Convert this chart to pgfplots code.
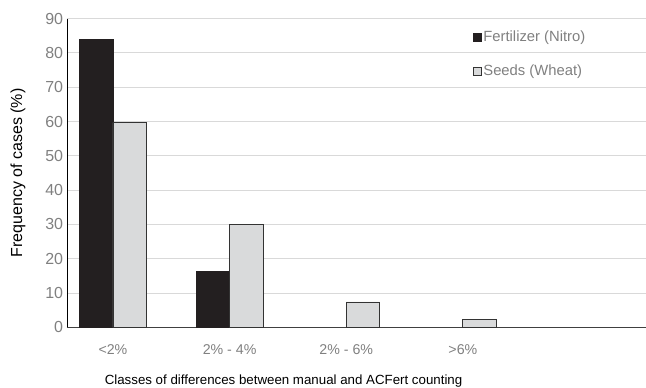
\documentclass[border=0pt]{standalone}
\usepackage{fontspec}
\setmainfont{Liberation Sans}
\usepackage{pgfplots}
\pgfplotsset{compat=1.18}
\definecolor{barblack}{HTML}{231F20}
\definecolor{bargray}{HTML}{D9DADB}
\definecolor{gridgray}{HTML}{D9D9D9}
\definecolor{ticktext}{HTML}{808080}
\definecolor{axisgray}{HTML}{404040}
\begin{document}
\fontsize{14}{16}\selectfont
\begin{tikzpicture}
\path[use as bounding box] (-67pt,-60.7pt) rectangle (579pt,327.3pt);
\begin{axis}[
  at={(0pt,0pt)}, anchor=south west,
  scale only axis, width=579pt, height=308.6pt,
  xmin=-0.394, xmax=4.57, ymin=0, ymax=90,
  ybar, bar width=0.287,
  xtick={0,1,2,3},
  xticklabels={\textless 2\%, 2\% - 4\%, 2\% - 6\%, >6\%},
  ytick={0,10,...,90},
  major tick length=0pt,
  /pgf/number format/assume math mode=true,
  xticklabel style={text=ticktext, font=\fontsize{14.2}{16}\selectfont, yshift=-12pt},
  yticklabel style={text=ticktext, font=\fontsize{16}{18}\selectfont, xshift=1pt},
  ymajorgrids, grid style={gridgray, line width=1pt},
  axis x line*=bottom, axis y line*=left,
  x axis line style={-, axisgray, line width=1pt},
  y axis line style={-, black, line width=0.8pt},
  xlabel={Classes of differences between manual and ACFert counting},
  ylabel={Frequency of cases (\%)},
  every axis x label/.style={at={([yshift=-53.5pt]axis description cs:0.374,0)}, anchor=center, font=\fontsize{13.3}{16}\selectfont},
  every axis y label/.style={at={([xshift=-49pt]axis description cs:0,0.5)}, rotate=90, anchor=center, font=\fontsize{16}{18}\selectfont},
  legend image code/.code={\draw[#1] (0pt,-4pt) rectangle (8pt,4pt);},
  legend style={at={(0.701,0.965)}, anchor=north west, draw=none, fill=none, text=ticktext, font=\fontsize{14.8}{17}\selectfont, row sep=18pt, inner sep=0pt, nodes={inner sep=1.5pt}},
  legend cell align=left,
]
\addplot[bar shift=-0.1435, fill=barblack, draw=barblack, line width=0.6pt] coordinates {(0,84) (1,16.2)};
\addplot[bar shift=0.1435, fill=bargray, draw=black!80, line width=0.8pt] coordinates {(0,59.7) (1,30.1) (2,7.4) (3,2.3)};
\legend{Fertilizer (Nitro), Seeds (Wheat)}
\end{axis}
\end{tikzpicture}
\end{document}
